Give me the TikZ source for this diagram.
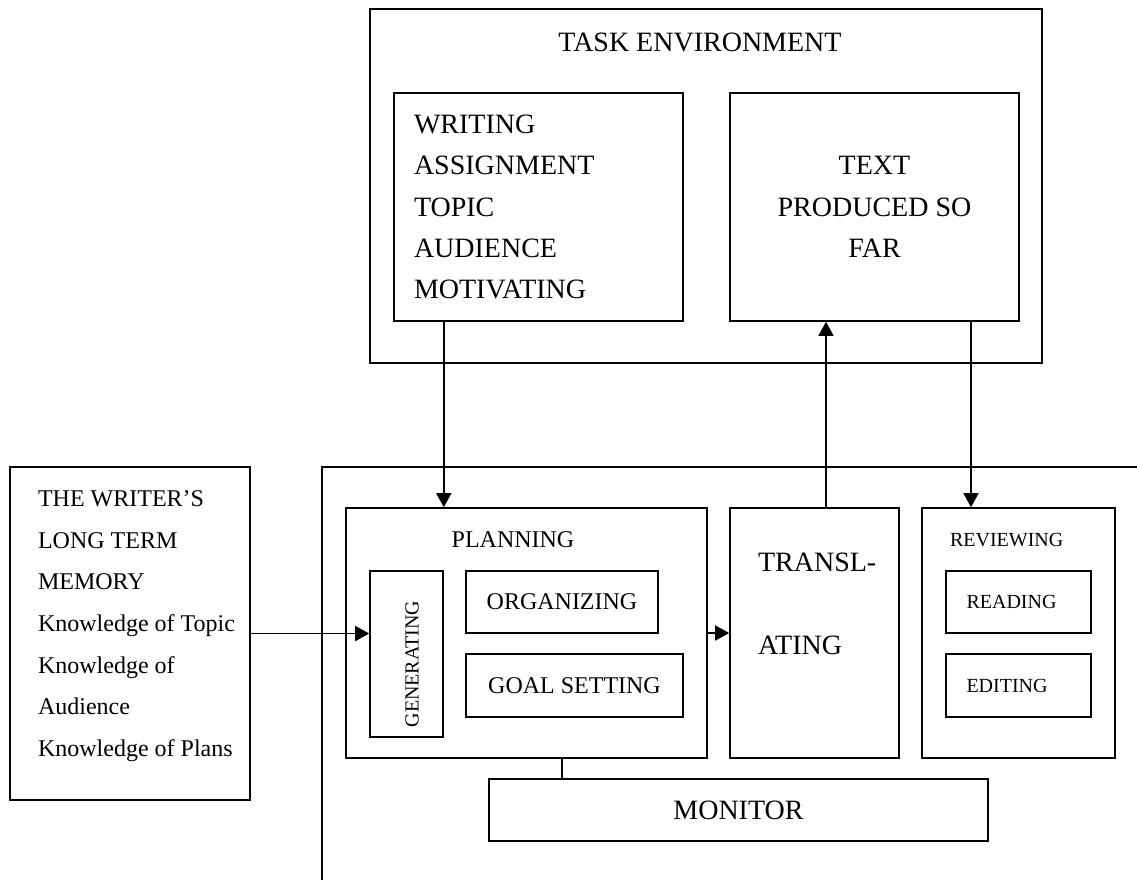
\documentclass[tikz,border=0pt]{standalone}
\usepackage{fontspec}
\setmainfont{Liberation Serif}
\usetikzlibrary{arrows.meta}
\tikzset{
  box/.style={
    rectangle,
    draw,
    line width=0.8pt,
    inner sep=0pt,
    align=center
  },
  bigtext/.style={font=\fontsize{14}{20.7}\selectfont},
  midtext/.style={font=\fontsize{12}{20.8}\selectfont},
  smalltext/.style={font=\fontsize{10}{12}\selectfont},
  splittext/.style={font=\fontsize{14}{41.5}\selectfont, align=left},
  arrow/.style={-{Triangle[length=7pt,width=7.5pt]}, line width=0.8pt},
  link/.style={line width=0.8pt}
}

\begin{document}
\begin{tikzpicture}[x=0.5pt,y=-0.5pt]
\useasboundingbox (0,0) rectangle (1137,880);

% task environment
\node[box, minimum width=336pt, minimum height=177pt] (taskenv) at (706,186) {};
\node[bigtext] (envtitle) at (700,42) {TASK ENVIRONMENT};
\node[box, bigtext, minimum width=144.5pt, minimum height=114pt, text width=124.5pt, inner xsep=10pt, align=left] (assignment) at (538.5,207) {WRITING\\ASSIGNMENT\\TOPIC\\AUDIENCE\\MOTIVATING};
\node[box, bigtext, minimum width=144.5pt, minimum height=114pt] (textsofar) at (874.5,207) {TEXT\\PRODUCED SO\\FAR};

% long term memory
\node[box, minimum width=120pt, minimum height=166.5pt] (memory) at (130,633.5) {};
\node[midtext, align=left, anchor=west] (memorytext) at (31,626) {THE WRITER'S\\LONG TERM\\MEMORY\\Knowledge of Topic\\Knowledge of\\Audience\\Knowledge of Plans};

% writing process frame
\coordinate (frameright) at (1137,467);
\coordinate (framecorner) at (322,467);
\coordinate (framefoot) at (322,880);
\draw[link] (frameright) -- (framecorner) -- (framefoot);

\node[box, minimum width=180.5pt, minimum height=125pt] (planning) at (526.5,633) {};
\node[midtext] (planningtitle) at (513,540) {PLANNING};
\node[box, smalltext, minimum width=36.5pt, minimum height=83pt] (generating) at (406.5,654) {\rotatebox{90}{\raisebox{-2.75pt}[\height][\depth]{GENERATING\kern10pt}}};
\node[box, midtext, minimum width=96pt, minimum height=31pt] (organizing) at (562,602) {ORGANIZING};
\node[box, midtext, minimum width=108.5pt, minimum height=31.5pt] (goalsetting) at (574.5,685.5) {GOAL SETTING};

\node[box, minimum width=84.5pt, minimum height=125pt] (translating) at (814.5,633) {};
\node[splittext, anchor=west] (translatingtext) at (751,603.5) {TRANSL-\\ATING};

\node[box, minimum width=96.5pt, minimum height=125pt] (reviewing) at (1018.5,633) {};
\node[smalltext, anchor=west] (reviewingtitle) at (943,540) {REVIEWING};
\node[box, smalltext, minimum width=72.5pt, minimum height=31pt, text width=52pt, inner xsep=10.25pt, align=left] (reading) at (1018.5,602) {READING};
\node[box, smalltext, minimum width=72.5pt, minimum height=31.5pt, text width=52pt, inner xsep=10.25pt, align=left] (editing) at (1018.5,685.5) {EDITING};

\node[box, bigtext, minimum width=249.5pt, minimum height=31pt] (monitor) at (738.5,810) {MONITOR};

% connectors
\draw[arrow] (assignment.south -| generating.east) -- (planning.north -| generating.east);
\draw[arrow] ([xshift=5.75pt]translating.north) -- ([xshift=5.75pt]translating.north |- textsofar.south);
\draw[arrow] ([xshift=-23.75pt]reviewing.north |- textsofar.south) -- ([xshift=-23.75pt]reviewing.north);
\draw[arrow] (memory.east) -- (memory.east -| generating.west);
\draw[arrow] (planning) -- (translating);
\draw[link] (organizing |- planning.south) -- (organizing |- monitor.north);
\end{tikzpicture}
\end{document}
